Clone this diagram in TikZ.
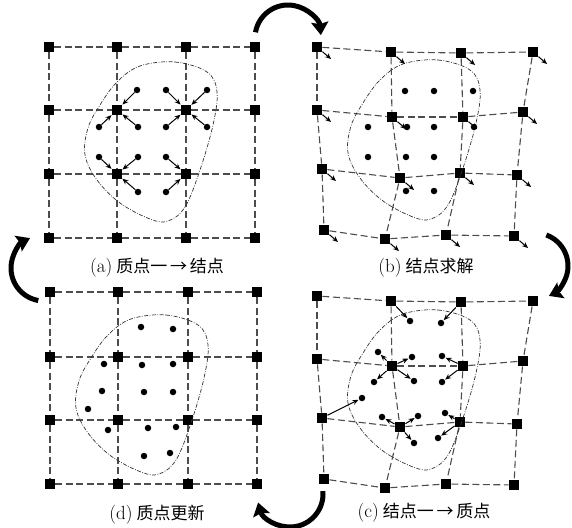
\documentclass[tikz,border=0pt]{standalone}
\usepackage{fontspec}
\newfontfamily\cjk{Noto Sans CJK SC}
\usetikzlibrary{arrows.meta}
\newcommand\tag[1]{{\fontsize{19}{19}\selectfont (#1)}\hspace{4pt}}
\tikzset{
 gnode/.style={rectangle,fill=black,minimum size=10.5pt,inner sep=0pt},
 pnode/.style={circle,fill=black,minimum size=6.5pt,inner sep=0pt},
 gedge/.style={draw=black!70,line width=1.1pt,dash pattern=on 7pt off 3.5pt},
 blob/.style={draw=black!80,line width=0.7pt,dash pattern=on 4pt off 1.5pt on 0.8pt off 1.5pt},
 parrow/.style={-{Stealth[length=6pt,width=5pt]},line width=1pt},
 bigarrow/.style={line width=5pt,-{Stealth[length=13pt,width=17pt,inset=2pt]}},
 lab/.style={font=\fontsize{17}{19}\selectfont,inner sep=0pt}
}
\begin{document}
\begin{tikzpicture}[x=1pt,y=-1pt]
\useasboundingbox (0,0) rectangle (572,527);
% ---------- (a) regular grid
\foreach \y [count=\r] in {47,110,174,238}
  \foreach \x [count=\c] in {49,117,186,255}
    \node[gnode] (a\r\c) at (\x,\y) {};
% ---------- (d) regular grid
\foreach \y [count=\r] in {292,357,420,484}
  \foreach \x [count=\c] in {50,118,188,257}
    \node[gnode] (d\r\c) at (\x,\y) {};
% ---------- (b) and (c) deformed grids
\foreach \r/\c/\x/\y in {1/1/317/47,1/2/391/52,1/3/461/53,1/4/533/52,
  2/1/317/110,2/2/392/117,2/3/463/117,2/4/523/112,
  3/1/322/169,3/2/400/178,3/3/460/173,3/4/517/175,
  4/1/324/230,4/2/385/239,4/3/446/235,4/4/514/236}{
  \node[gnode] (b\r\c) at (\x,\y) {};
  \node[gnode] (c\r\c) at (\x,{\y+249}) {};
  \coordinate (bt\r\c) at ({\x+14},{\y+12});
}
% ---------- grid edges
\foreach \g in {a,b,c,d}{
  \foreach \r in {1,2,3,4}{
    \foreach \c/\n in {1/2,2/3,3/4}{
      \draw[gedge] (\g\r\c) -- (\g\r\n);
      \draw[gedge] (\g\c\r) -- (\g\n\r);
    }
  }
}
% ---------- material region outlines
\foreach \sx/\sy in {0/0,263/-2,263/248,-9/253}
  \draw[blob,shift={(\sx,\sy)}] plot[smooth cycle,tension=0.6] coordinates
   {(140,66) (175,62) (207,72) (217,92) (213,125) (200,170) (185,207) (168,221)
    (150,219) (120,203) (97,180) (85,155) (88,128) (100,105) (117,82)};
% ---------- (a) particles -> nodes
\foreach \i/\x/\y/\t in {1/137/90/a22,2/99/127/a22,3/138/127/a22,
  4/166/90/a23,5/207/90/a23,6/166/127/a23,7/207/127/a23,
  8/99/157/a32,9/138/157/a32,10/138/192/a32,
  11/166/157/a33,12/166/192/a33}{
  \node[pnode] (pa\i) at (\x,\y) {};
  \draw[parrow] (pa\i) -- (\t);
}
% ---------- (b) particles and nodal increments
\foreach \i/\x/\y in {1/405/91,2/434/91,3/473/91,4/368/127,5/407/127,6/434/127,
  7/474/127,8/368/157,9/406/157,10/434/157,11/406/191,12/434/191}
  \node[pnode] (pb\i) at (\x,\y) {};
\foreach \r in {1,2,3,4}
  \foreach \c in {1,2,3,4}
    \draw[parrow] (b\r\c) -- (bt\r\c);
% ---------- (c) nodes -> particles
\foreach \i/\x/\y/\s in {1/410/321/c12,2/441/323/c13,3/378/352/c22,4/412/357/c22,
  5/374/382/c22,6/414/381/c22,7/442/356/c23,8/442/382/c23,9/362/398/c31,
  10/382/417/c32,11/418/416/c32,12/414/443/c32,13/445/413/c33,14/438/438/c33}{
  \node[pnode] (pc\i) at (\x,\y) {};
  \draw[parrow,shorten >=0.5pt] (\s) -- (pc\i);
}
% ---------- (d) updated particles
\foreach \i/\x/\y in {1/141/327,2/173/329,3/104/364,4/142/365,5/173/364,
  6/102/391,7/144/392,8/173/392,9/88/409,10/108/430,11/148/428,12/176/427,
  13/144/456,14/170/453}
  \node[pnode] (pd\i) at (\x,\y) {};
% ---------- labels
\node[lab] (la) at (157,268) {\tag{a}{\cjk 质点一\,→\,结点}};
\node[lab] (lb) at (426,268) {\tag{b}{\cjk 结点求解}};
\node[lab] (lc) at (424,513) {\tag{c}{\cjk 结点一\,→\,质点}};
\node[lab] (ld) at (157,515) {\tag{d}{\cjk 质点更新}};
% ---------- cycle arrows
\coordinate (ct) at (288,38);
\coordinate (cr) at (535,266);
\coordinate (cb) at (290,494);
\coordinate (cl) at (44,268);
\draw[bigarrow] (ct) ++(190:33) arc[start angle=190,end angle=355,radius=33];
\draw[bigarrow] (cr) ++(-70:33) arc[start angle=-70,end angle=65,radius=33];
\draw[bigarrow] (cb) ++(-5:33) arc[start angle=-5,end angle=165,radius=33];
\draw[bigarrow] (cl) ++(100:33) arc[start angle=100,end angle=245,radius=33];
\end{tikzpicture}
\end{document}
